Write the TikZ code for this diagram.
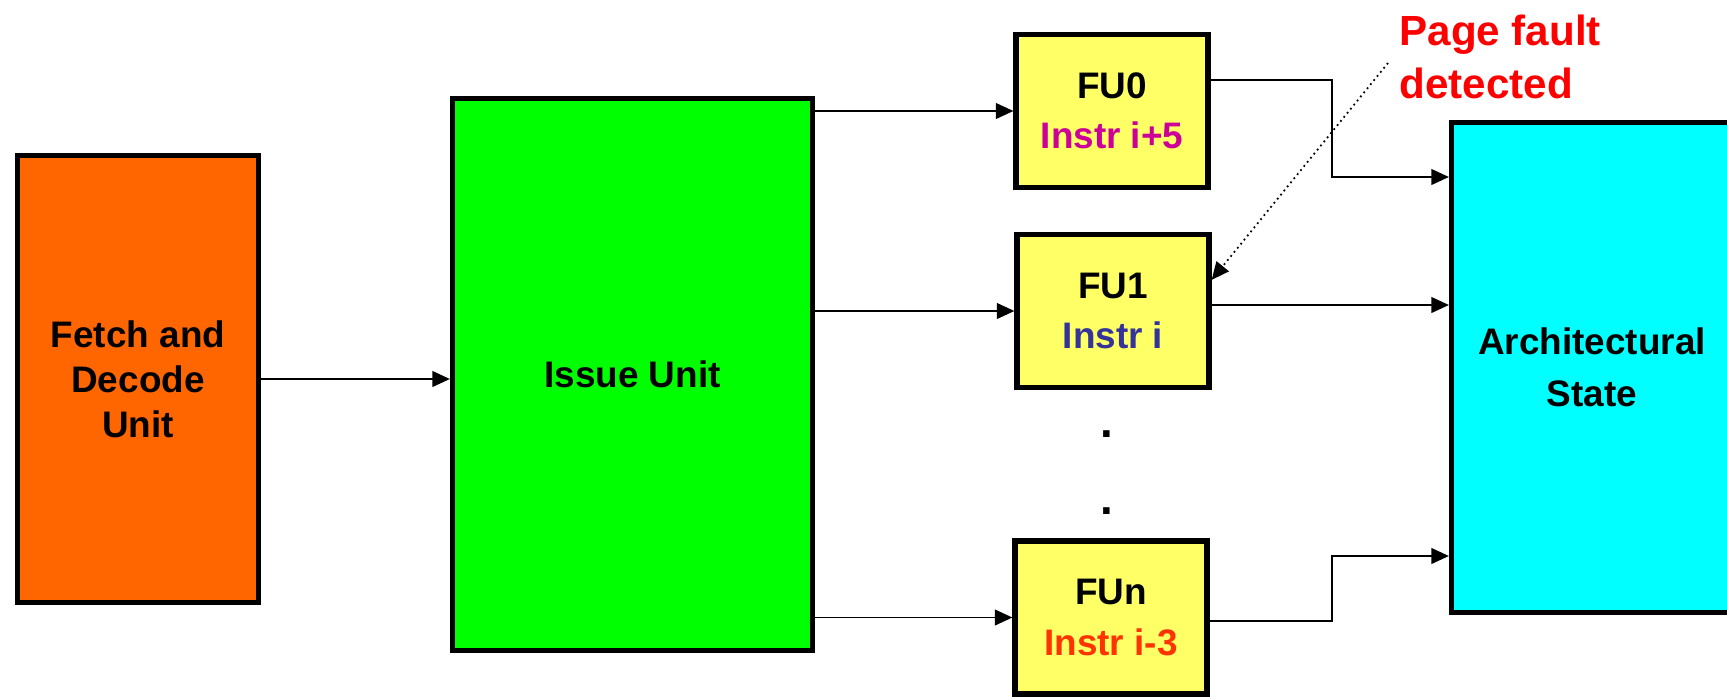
\documentclass[tikz,border=0pt]{standalone}
\usepackage{fontspec}
\setmainfont{Liberation Sans}
\usetikzlibrary{calc,arrows.meta}
\definecolor{fetchcolor}{HTML}{FF6600}
\definecolor{issuecolor}{HTML}{00FF00}
\definecolor{fucolor}{HTML}{FFFF66}
\definecolor{archcolor}{HTML}{00FFFF}
\definecolor{nextcolor}{HTML}{CC0099}
\definecolor{curcolor}{HTML}{333399}
\definecolor{prevcolor}{HTML}{FF3300}
\newcommand{\boxline}{1.5pt}
\newcommand{\wireline}{0.5pt}
\newcommand{\bend}{13.32}

\begin{document}
\begin{tikzpicture}[
  unit/.style={draw, line width=\boxline, inner sep=0pt, align=center,
    font=\bfseries\fontsize{10.5}{12.8}\selectfont},
  fu/.style={unit, fill=fucolor, minimum width=1.92cm, minimum height=1.53cm},
  wire/.style={line width=\wireline, -{Triangle[length=5pt,width=4.5pt]}}
]
\useasboundingbox (0,0) rectangle (17.27,6.98);
\clip (0,0) rectangle (17.27,6.98);
% blocks
\node[unit, fill=fetchcolor, minimum width=2.41cm, minimum height=4.47cm] (fetch) at (1.38, 3.19) {Fetch and\\Decode\\Unit};
\node[unit, fill=issuecolor, minimum width=3.60cm, minimum height=5.52cm] (issue) at (6.325, 3.235) {Issue Unit};
\node[fu] (fu0) at (11.12, 5.87) {FU0\\[1.5pt]\textcolor{nextcolor}{Instr i+5}};
\node[fu] (fu1) at (11.13, 3.87) {FU1\\[1.5pt]\textcolor{curcolor}{Instr i}};
\node[fu] (fun) at (11.11, 0.805) {FUn\\[1.5pt]\textcolor{prevcolor}{Instr i-3}};
\node[unit, fill=archcolor, minimum width=2.81cm, minimum height=4.90cm] (arch) at (15.92, 3.305) {Architectural\\[2pt]State};
\node[anchor=base, font=\bfseries\fontsize{13}{15}\selectfont] (dot1) at (11.07, 2.61) {.};
\node[anchor=base, font=\bfseries\fontsize{13}{15}\selectfont] (dot2) at (11.07, 1.84) {.};
\node[anchor=west, align=left, text=red, font=\bfseries\fontsize{12}{15}\selectfont] (fault) at (13.87, 6.41) {Page fault\\detected};
% wires
\draw[wire] (fetch.east) -- (fetch.east -| issue.west);
\draw[wire] (issue.east |- fu0) -- (fu0.west);
\draw[wire] (issue.east |- fu1) -- (fu1.west);
\draw[wire] (issue.east |- fun) -- (fun.west);
\coordinate (out0) at ($(fu0.north east)+(0,-0.48)$);
\coordinate (in0) at (\bend, 5.21);
\draw[wire] (out0) -| (in0) -- (in0 -| arch.west);
\coordinate (out1) at ($(fu1.east)+(0,0.06)$);
\draw[wire] (out1) -- (out1 -| arch.west);
\coordinate (outn) at ($(fun.east)+(0,-0.035)$);
\coordinate (inn) at (\bend, 1.42);
\draw[wire] (outn) -| (inn) -- (inn -| arch.west);
% fault pointer
\coordinate (src) at (13.88, 6.35);
\coordinate (hit) at ($(fu1.north east)+(0,-0.48)$);
\draw[wire, densely dotted] (src) -- (hit);
\end{tikzpicture}
\end{document}
